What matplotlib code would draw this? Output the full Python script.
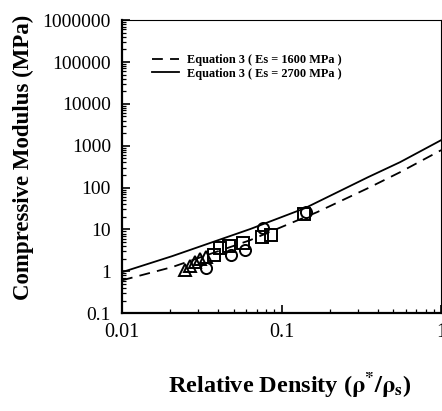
import matplotlib
matplotlib.use("Agg")
import matplotlib.pyplot as plt
from matplotlib.ticker import FuncFormatter, LogLocator

plt.rcParams['font.family'] = ['Liberation Serif', 'DejaVu Serif']
plt.rcParams['mathtext.fontset'] = 'stix'

tri_x = [0.0248, 0.0267, 0.0287, 0.0308, 0.0336]
tri_y = [1.06, 1.33, 1.65, 1.95, 2.18]
sq_x = [0.0377, 0.0412, 0.0469, 0.0573, 0.0755, 0.0859, 0.138]
sq_y = [2.43, 3.57, 3.99, 4.70, 6.54, 7.30, 23.2]
circ_x = [0.0336, 0.0483, 0.0590, 0.0766, 0.1425]
circ_y = [1.19, 2.43, 3.20, 10.7, 25.9]

# Equation 3 curves
eq_x = [0.01, 0.0206, 0.0635, 0.140, 0.348, 0.553, 1.0]
eq_soft_x = [0.01, 0.0206, 0.0635, 0.167, 0.348, 0.553, 1.0]
eq_soft_y = [0.61, 1.26, 5.54, 25.9, 96.9, 233, 783]      # Es = 1600 MPa
eq_stiff_y = [0.954, 2.30, 10.2, 32.2, 177, 405, 1358]    # Es = 2700 MPa

fig = plt.figure(figsize=(4.42, 4.11), dpi=100)
ax = fig.add_axes([0.276, 0.238, 0.722, 0.713])

ax.plot(eq_soft_x, eq_soft_y, 'k--', lw=1.3, dashes=(6, 4),
        label='Equation 3 ( Es = 1600 MPa )')
ax.plot(eq_x, eq_stiff_y, 'k-', lw=1.3,
        label='Equation 3 ( Es = 2700 MPa )')

mk = dict(ls='none', mfc='none', mec='black', mew=1.4, ms=8)
ax.plot(tri_x, tri_y, marker='^', **mk)
ax.plot(sq_x, sq_y, marker='s', **mk)
ax.plot(circ_x, circ_y, marker='o', **mk)

ax.set_xscale('log')
ax.set_yscale('log')
ax.set_xlim(0.01, 1)
ax.set_ylim(0.1, 1e6)

fmt = FuncFormatter(lambda v, p: ('%g' % v) if v < 1 else '%d' % round(v))
ax.xaxis.set_major_formatter(fmt)
ax.yaxis.set_major_formatter(fmt)
ax.yaxis.set_major_locator(LogLocator(base=10, numticks=10))
ax.yaxis.set_minor_locator(LogLocator(base=10, subs=range(2, 10), numticks=20))

ax.tick_params(which='both', direction='in')
ax.tick_params(axis='y', labelsize=14, pad=8)
ax.tick_params(axis='x', labelsize=14.5, pad=7)
ax.tick_params(which='major', length=6, width=1.2)
ax.tick_params(which='minor', length=3, width=0.9)
for s in ['left', 'bottom']:
    ax.spines[s].set_linewidth(1.6)
for s in ['top', 'right']:
    ax.spines[s].set_linewidth(0.8)

ax.set_xlabel(r'Relative Density ($\mathbf{\rho^{*}/\rho_{s}}$)', fontsize=17.5,
              fontweight='bold')
ax.xaxis.set_label_coords(0.525, -0.195)
ax.set_ylabel('Compressive Modulus (MPa)', fontsize=16.5, fontweight='bold')
ax.yaxis.set_label_coords(-0.275, 0.53)

leg = ax.legend(loc='upper left', bbox_to_anchor=(0.08, 0.9), frameon=False,
                prop={'size': 8.8, 'weight': 'bold'}, handlelength=2.2,
                labelspacing=0.1, handletextpad=0.6, borderaxespad=0)

fig.savefig('out.png', dpi=100)
